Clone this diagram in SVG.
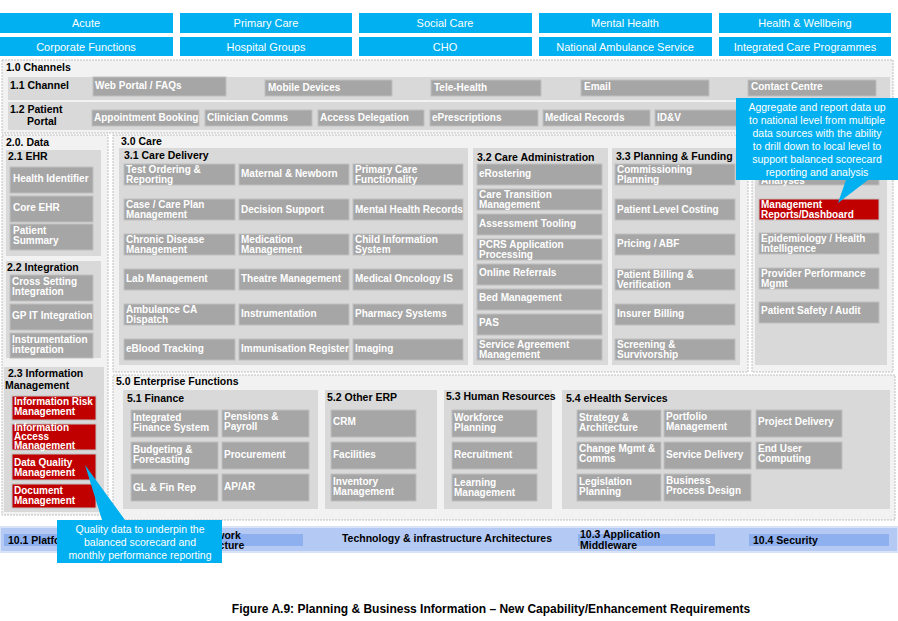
<svg xmlns="http://www.w3.org/2000/svg" width="898" height="621" viewBox="0 0 898 621">
<style>
text{font-family:"Liberation Sans",Arial,sans-serif}
.t{fill:#00b0f0}.tt{fill:#fff;font-size:11px;text-anchor:middle}
.o{fill:#f2f2f2;stroke:#bfbfbf;stroke-dasharray:2 1}
.bg{fill:#d9d9d9}
.b{fill:#a6a6a6;stroke:#bfbfbf}
.r{fill:#c00000;stroke:#bfbfbf}
.w{fill:#fff;font-size:10px;font-weight:bold}
.h{fill:#000;font-size:10.5px;font-weight:bold}
.c{fill:#00b0f0}
.ct{fill:#fff;font-size:10.5px;text-anchor:middle}
</style>
<rect width="898" height="621" fill="#fff"/>
<g id="top">
<rect class="t" x="0" y="13" width="173" height="20"/><text class="tt" x="86" y="27">Acute</text>
<rect class="t" x="180" y="13" width="172" height="20"/><text class="tt" x="266" y="27">Primary Care</text>
<rect class="t" x="359" y="13" width="173" height="20"/><text class="tt" x="445" y="27">Social Care</text>
<rect class="t" x="539" y="13" width="173" height="20"/><text class="tt" x="625" y="27">Mental Health</text>
<rect class="t" x="719" y="13" width="172" height="20"/><text class="tt" x="805" y="27">Health &amp; Wellbeing</text>
<rect class="t" x="0" y="37" width="173" height="19"/><text class="tt" x="86" y="51">Corporate Functions</text>
<rect class="t" x="180" y="37" width="172" height="19"/><text class="tt" x="266" y="51">Hospital Groups</text>
<rect class="t" x="359" y="37" width="173" height="19"/><text class="tt" x="445" y="51">CHO</text>
<rect class="t" x="539" y="37" width="173" height="19"/><text class="tt" x="625" y="51">National Ambulance Service</text>
<rect class="t" x="719" y="37" width="172" height="19"/><text class="tt" x="805" y="51">Integrated Care Programmes</text>
</g>
<g id="channels">
<rect class="o" x="2" y="60" width="891" height="73"/>
<text class="h" x="6" y="71">1.0 Channels</text>
<rect class="bg" x="8" y="77" width="882" height="23"/>
<text class="h" x="10" y="89">1.1 Channel</text>
<rect class="b" x="93" y="77" width="133" height="19"/><text class="w" x="95" y="89">Web Portal / FAQs</text>
<rect class="b" x="265" y="80" width="127" height="16"/><text class="w" x="268" y="91">Mobile Devices</text>
<rect class="b" x="431" y="80" width="110" height="16"/><text class="w" x="434" y="91">Tele-Health</text>
<rect class="b" x="581" y="80" width="128" height="16"/><text class="w" x="584" y="90">Email</text>
<rect class="b" x="748" y="80" width="128" height="16"/><text class="w" x="751" y="90">Contact Centre</text>
<rect class="bg" x="8" y="102" width="882" height="28"/>
<text class="h" x="10" y="113">1.2 Patient</text><text class="h" x="27" y="125">Portal</text>
<rect class="b" x="92" y="110" width="107" height="16"/><text class="w" x="94" y="121">Appointment Booking</text>
<rect class="b" x="205" y="110" width="107" height="16"/><text class="w" x="207" y="121">Clinician Comms</text>
<rect class="b" x="318" y="110" width="106" height="16"/><text class="w" x="320" y="121">Access Delegation</text>
<rect class="b" x="430" y="110" width="108" height="16"/><text class="w" x="432" y="121">ePrescriptions</text>
<rect class="b" x="543" y="110" width="107" height="16"/><text class="w" x="545" y="121">Medical Records</text>
<rect class="b" x="655" y="110" width="83" height="16"/><text class="w" x="657" y="121">ID&amp;V</text>
</g>
<g id="data">
<rect class="o" x="2" y="135" width="106" height="380"/>
<text class="h" x="6" y="146">2.0. Data</text>
<rect class="bg" x="6" y="150" width="95" height="106"/>
<text class="h" x="8" y="160">2.1 EHR</text>
<rect class="b" x="10" y="167" width="83" height="26"/><text class="w" x="13" y="182">Health Identifier</text>
<rect class="b" x="10" y="196" width="83" height="26"/><text class="w" x="13" y="211">Core EHR</text>
<rect class="b" x="10" y="224" width="83" height="26"/><text class="w" x="13" y="234">Patient</text><text class="w" x="13" y="244">Summary</text>
<rect class="bg" x="6" y="261" width="95" height="97"/>
<text class="h" x="7" y="271">2.2 Integration</text>
<rect class="b" x="10" y="275" width="83" height="26"/><text class="w" x="12" y="285">Cross Setting</text><text class="w" x="12" y="295">Integration</text>
<rect class="b" x="10" y="304" width="83" height="26"/><text class="w" x="12" y="319">GP IT Integration</text>
<rect class="b" x="10" y="333" width="83" height="25"/><text class="w" x="12" y="343">Instrumentation</text><text class="w" x="12" y="353">integration</text>
<rect class="bg" x="4" y="367" width="100" height="145"/>
<text class="h" x="8" y="377">2.3 Information</text><text class="h" x="5" y="389">Management</text>
<rect class="r" x="12" y="396" width="84" height="24"/><text class="w" x="14" y="405">Information Risk</text><text class="w" x="14" y="415">Management</text>
<rect class="r" x="12" y="424" width="84" height="26"/><text class="w" x="14" y="431" font-size="9">Information</text><text class="w" x="14" y="440" font-size="9">Access</text><text class="w" x="14" y="449" font-size="9">Management</text>
<rect class="r" x="12" y="454" width="84" height="26"/><text class="w" x="14" y="466">Data Quality</text><text class="w" x="14" y="476">Management</text>
<rect class="r" x="12" y="484" width="84" height="24"/><text class="w" x="14" y="494">Document</text><text class="w" x="14" y="504">Management</text>
</g>
<g id="care">
<rect class="o" x="113" y="135" width="635" height="237"/>
<text class="h" x="121" y="145">3.0 Care</text>
<rect class="bg" x="119" y="148" width="349" height="217"/>
<text class="h" x="124" y="159">3.1 Care Delivery</text>
<g>
<rect class="b" x="124" y="164" width="111" height="21"/><text class="w" x="126" y="173">Test Ordering &amp;</text><text class="w" x="126" y="183">Reporting</text>
<rect class="b" x="239" y="164" width="110" height="21"/><text class="w" x="241" y="177">Maternal &amp; Newborn</text>
<rect class="b" x="353" y="164" width="110" height="21"/><text class="w" x="355" y="173">Primary Care</text><text class="w" x="355" y="183">Functionality</text>
<rect class="b" x="124" y="199" width="111" height="21"/><text class="w" x="126" y="208">Case / Care Plan</text><text class="w" x="126" y="218">Management</text>
<rect class="b" x="239" y="199" width="110" height="21"/><text class="w" x="241" y="213">Decision Support</text>
<rect class="b" x="353" y="199" width="110" height="21"/><text class="w" x="355" y="213">Mental Health Records</text>
<rect class="b" x="124" y="234" width="111" height="21"/><text class="w" x="126" y="243">Chronic Disease</text><text class="w" x="126" y="253">Management</text>
<rect class="b" x="239" y="234" width="110" height="21"/><text class="w" x="241" y="243">Medication</text><text class="w" x="241" y="253">Management</text>
<rect class="b" x="353" y="234" width="110" height="21"/><text class="w" x="355" y="243">Child Information</text><text class="w" x="355" y="253">System</text>
<rect class="b" x="124" y="269" width="111" height="21"/><text class="w" x="126" y="282">Lab Management</text>
<rect class="b" x="239" y="269" width="110" height="21"/><text class="w" x="241" y="282">Theatre Management</text>
<rect class="b" x="353" y="269" width="110" height="21"/><text class="w" x="355" y="282">Medical Oncology IS</text>
<rect class="b" x="124" y="304" width="111" height="21"/><text class="w" x="126" y="313">Ambulance CA</text><text class="w" x="126" y="323">Dispatch</text>
<rect class="b" x="239" y="304" width="110" height="21"/><text class="w" x="241" y="317">Instrumentation</text>
<rect class="b" x="353" y="304" width="110" height="21"/><text class="w" x="355" y="317">Pharmacy Systems</text>
<rect class="b" x="124" y="339" width="111" height="21"/><text class="w" x="126" y="352">eBlood Tracking</text>
<rect class="b" x="239" y="339" width="110" height="21"/><text class="w" x="241" y="352">Immunisation Register</text>
<rect class="b" x="353" y="339" width="110" height="21"/><text class="w" x="355" y="352">Imaging</text>
</g>
<rect class="bg" x="473" y="148" width="135" height="217"/>
<text class="h" x="477" y="161">3.2 Care Administration</text>
<rect class="b" x="477" y="164" width="125" height="21"/><text class="w" x="479" y="177">eRostering</text>
<rect class="b" x="477" y="189" width="125" height="21"/><text class="w" x="479" y="198">Care Transition</text><text class="w" x="479" y="208">Management</text>
<rect class="b" x="477" y="214" width="125" height="21"/><text class="w" x="479" y="227">Assessment Tooling</text>
<rect class="b" x="477" y="239" width="125" height="21"/><text class="w" x="479" y="248">PCRS  Application</text><text class="w" x="479" y="258">Processing</text>
<rect class="b" x="477" y="264" width="125" height="21"/><text class="w" x="479" y="276">Online Referrals</text>
<rect class="b" x="477" y="289" width="125" height="21"/><text class="w" x="479" y="301">Bed Management</text>
<rect class="b" x="477" y="314" width="125" height="21"/><text class="w" x="479" y="326">PAS</text>
<rect class="b" x="477" y="339" width="125" height="21"/><text class="w" x="479" y="348">Service Agreement</text><text class="w" x="479" y="358">Management</text>
<rect class="bg" x="612" y="148" width="128" height="217"/>
<text class="h" x="616" y="160">3.3 Planning &amp; Funding</text>
<rect class="b" x="615" y="164" width="120" height="21"/><text class="w" x="617" y="173">Commissioning</text><text class="w" x="617" y="183">Planning</text>
<rect class="b" x="615" y="199" width="120" height="21"/><text class="w" x="617" y="213">Patient Level Costing</text>
<rect class="b" x="615" y="234" width="120" height="21"/><text class="w" x="617" y="247">Pricing / ABF</text>
<rect class="b" x="615" y="269" width="120" height="21"/><text class="w" x="617" y="278">Patient Billing &amp;</text><text class="w" x="617" y="288">Verification</text>
<rect class="b" x="615" y="304" width="120" height="21"/><text class="w" x="617" y="317">Insurer Billing</text>
<rect class="b" x="615" y="339" width="120" height="21"/><text class="w" x="617" y="348">Screening &amp;</text><text class="w" x="617" y="358">Survivorship</text>
</g>
<g id="analytics">
<rect class="o" x="752" y="135" width="141" height="237"/>
<rect class="bg" x="755" y="148" width="132" height="217"/>
<rect class="b" x="759" y="164" width="120" height="21"/><text class="w" x="761" y="184">Analyses</text>
<rect class="r" x="759" y="199" width="120" height="21"/><text class="w" x="761" y="208">Management</text><text class="w" x="761" y="218">Reports/Dashboard</text>
<rect class="b" x="759" y="233" width="120" height="21"/><text class="w" x="761" y="242">Epidemiology / Health</text><text class="w" x="761" y="252">Intelligence</text>
<rect class="b" x="759" y="268" width="120" height="21"/><text class="w" x="761" y="277">Provider Performance</text><text class="w" x="761" y="287">Mgmt</text>
<rect class="b" x="759" y="302" width="120" height="21"/><text class="w" x="761" y="314">Patient Safety / Audit</text>
</g>
<g id="enterprise">
<rect class="o" x="113" y="375" width="782" height="145"/>
<text class="h" x="116" y="385">5.0 Enterprise Functions</text>
<rect class="bg" x="123" y="390" width="195" height="119"/>
<text class="h" x="127" y="402">5.1 Finance</text>
<rect class="b" x="131" y="410" width="87" height="27"/><text class="w" x="133" y="421">Integrated</text><text class="w" x="133" y="431">Finance System</text>
<rect class="b" x="222" y="410" width="87" height="27"/><text class="w" x="224" y="420">Pensions &amp;</text><text class="w" x="224" y="430">Payroll</text>
<rect class="b" x="131" y="442" width="87" height="27"/><text class="w" x="133" y="453">Budgeting &amp;</text><text class="w" x="133" y="463">Forecasting</text>
<rect class="b" x="222" y="442" width="87" height="27"/><text class="w" x="224" y="458">Procurement</text>
<rect class="b" x="131" y="474" width="87" height="27"/><text class="w" x="133" y="491">GL &amp; Fin Rep</text>
<rect class="b" x="222" y="474" width="87" height="27"/><text class="w" x="224" y="490">AP/AR</text>
<rect class="bg" x="325" y="390" width="112" height="119"/>
<text class="h" x="327" y="401">5.2 Other ERP</text>
<rect class="b" x="331" y="410" width="85" height="27"/><text class="w" x="333" y="425">CRM</text>
<rect class="b" x="331" y="442" width="85" height="27"/><text class="w" x="333" y="458">Facilities</text>
<rect class="b" x="331" y="474" width="85" height="27"/><text class="w" x="333" y="485">Inventory</text><text class="w" x="333" y="495">Management</text>
<rect class="bg" x="444" y="390" width="108" height="119"/>
<text class="h" x="446" y="400">5.3 Human Resources</text>
<rect class="b" x="452" y="410" width="85" height="27"/><text class="w" x="454" y="421">Workforce</text><text class="w" x="454" y="431">Planning</text>
<rect class="b" x="452" y="442" width="85" height="27"/><text class="w" x="454" y="458">Recruitment</text>
<rect class="b" x="452" y="474" width="85" height="27"/><text class="w" x="454" y="486">Learning</text><text class="w" x="454" y="496">Management</text>
<rect class="bg" x="562" y="390" width="328" height="119"/>
<text class="h" x="566" y="402">5.4 eHealth Services</text>
<rect class="b" x="577" y="410" width="84" height="27"/><text class="w" x="579" y="421">Strategy &amp;</text><text class="w" x="579" y="431">Architecture</text>
<rect class="b" x="664" y="410" width="87" height="27"/><text class="w" x="666" y="420">Portfolio</text><text class="w" x="666" y="430">Management</text>
<rect class="b" x="756" y="410" width="86" height="27"/><text class="w" x="758" y="425">Project Delivery</text>
<rect class="b" x="577" y="442" width="84" height="27"/><text class="w" x="579" y="452">Change Mgmt &amp;</text><text class="w" x="579" y="462">Comms</text>
<rect class="b" x="664" y="442" width="87" height="27"/><text class="w" x="666" y="458">Service Delivery</text>
<rect class="b" x="756" y="442" width="86" height="27"/><text class="w" x="758" y="452">End User</text><text class="w" x="758" y="462">Computing</text>
<rect class="b" x="577" y="474" width="84" height="27"/><text class="w" x="579" y="485">Legislation</text><text class="w" x="579" y="495">Planning</text>
<rect class="b" x="664" y="474" width="87" height="27"/><text class="w" x="666" y="484">Business</text><text class="w" x="666" y="494">Process Design</text>
</g>
<g id="tech">
<rect x="0" y="527" width="898" height="25" fill="#b4c9f3" stroke="#d9e3f8" stroke-width="2"/>
<rect x="4" y="534" width="148" height="12" fill="#8eb0ef"/>
<rect x="185" y="534" width="118" height="12" fill="#8eb0ef"/>
<rect x="578" y="534" width="137" height="12" fill="#8eb0ef"/>
<rect x="749" y="534" width="140" height="12" fill="#8eb0ef"/>
<text class="h" x="8" y="544">10.1 Platform</text>
<text class="h" x="176" y="539">10.2 Network</text><text class="h" x="176" y="549">Infrastructure</text>
<text class="h" x="447" y="542" text-anchor="middle">Technology &amp; infrastructure Architectures</text>
<text class="h" x="580" y="538">10.3 Application</text><text class="h" x="580" y="549">Middleware</text>
<text class="h" x="753" y="544">10.4 Security</text>
</g>
<g id="connectors">
<path class="c" d="M736,98 H898 V180 H868 L838,203 L846,180 H736 Z"/>
<text class="ct" x="817" y="111">Aggregate and report data up</text>
<text class="ct" x="817" y="124">to national level  from multiple</text>
<text class="ct" x="817" y="137">data sources with the ability</text>
<text class="ct" x="817" y="150">to drill down to local level to</text>
<text class="ct" x="817" y="163">support balanced scorecard</text>
<text class="ct" x="817" y="176">reporting and analysis</text>
<path class="c" d="M57,520 H102 L85,465 L125,520 H222 V563 H57 Z"/>
<text class="ct" x="140" y="533">Quality data to underpin the</text>
<text class="ct" x="140" y="546">balanced scorecard and</text>
<text class="ct" x="140" y="559">monthly performance reporting</text>
</g>
<text x="491" y="613" text-anchor="middle" font-size="12" font-weight="bold" font-family="Liberation Sans,Arial,sans-serif">Figure A.9: Planning &amp; Business Information – New Capability/Enhancement Requirements</text>
</svg>
